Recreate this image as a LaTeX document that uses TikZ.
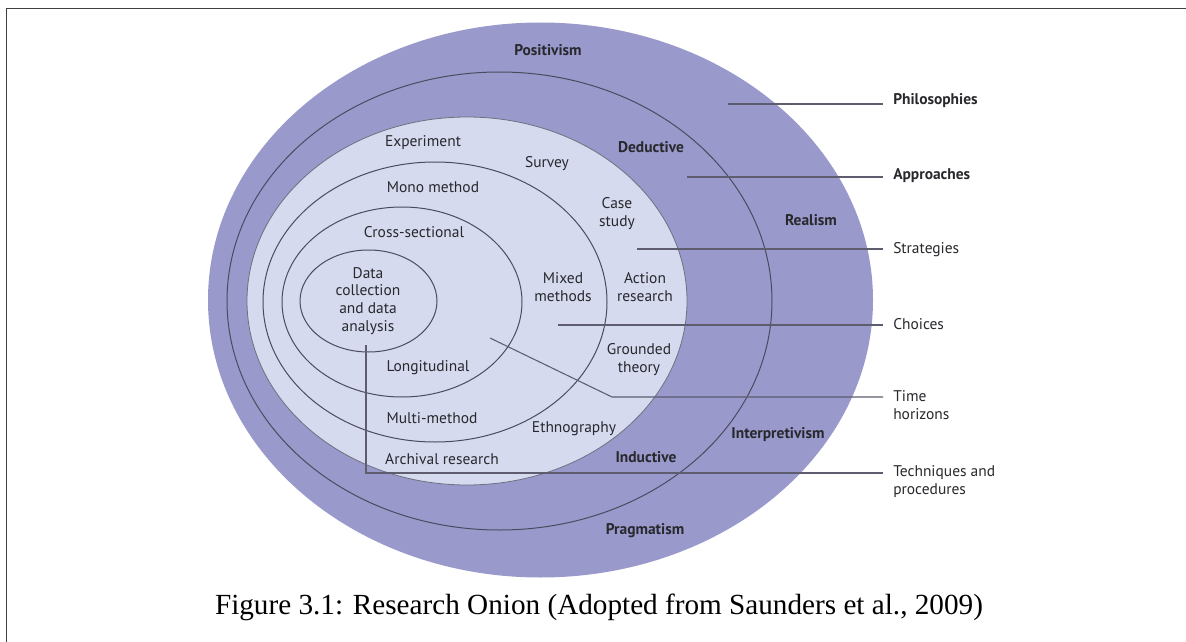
\documentclass[tikz,border=0pt]{standalone}
\usepackage{fontspec}
\newfontfamily\onionfont{PT Sans}
\newfontfamily\capfont{Liberation Serif}
\definecolor{outerpurple}{RGB}{153,153,204}
\definecolor{innerlight}{RGB}{213,218,238}
\definecolor{ringline}{RGB}{75,75,95}
\definecolor{labtext}{RGB}{40,40,45}
\begin{document}
\begin{tikzpicture}[x=0.75pt,y=-0.75pt,
  lab/.style={font=\onionfont\fontsize{11.6}{13.4}\selectfont, align=center, inner sep=0pt, text=labtext},
  blab/.style={lab, font=\onionfont\bfseries\fontsize{11.6}{13.4}\selectfont},
  rlab/.style={lab, anchor=west, align=left},
  rblab/.style={blab, anchor=west, align=left},
  ring/.style={draw=ringline, line width=0.75pt},
  leader/.style={draw=ringline!90, line width=0.8pt}]
\useasboundingbox (0,0) rectangle (1186,642);
% frame
\draw[line width=1.2pt, black!75] (6.5,642) -- (6.5,8.5) -- (1186,8.5);
% onion
\fill[outerpurple] (540.5,300) ellipse [x radius=332.5, y radius=277.5];
\draw[ring] (499.5,301) ellipse [x radius=272.5, y radius=229];
\filldraw[fill=innerlight, draw=ringline!80, line width=0.6pt] (467,301) ellipse [x radius=220, y radius=184];
\draw[ring] (435,302) ellipse [x radius=172, y radius=140];
\draw[ring] (402,302) ellipse [x radius=120, y radius=95];
\draw[ring] (368.5,301) ellipse [x radius=68.5, y radius=51];
% leader coordinates
\coordinate (philS) at (728,104);   \coordinate (philE) at (883,104);
\coordinate (apprS) at (687,177);   \coordinate (apprE) at (883,177);
\coordinate (stratS) at (637,249);  \coordinate (stratE) at (883,249);
\coordinate (choiS) at (558,325);   \coordinate (choiE) at (883,325);
\coordinate (timeS) at (490,338);   \coordinate (timeK) at (612,397); \coordinate (timeE) at (883,397);
\coordinate (techS) at (366,345);   \coordinate (techK) at (366,473); \coordinate (techE) at (883,473);
\draw[leader] (philS) -- (philE);
\draw[leader] (apprS) -- (apprE);
\draw[leader] (stratS) -- (stratE);
\draw[leader] (choiS) -- (choiE);
\draw[leader] (timeS) -- (timeK) -- (timeE);
\draw[leader] (techS) -- (techK) -- (techE);
% ring labels
\node[blab] (positivism) at (548,50) {Positivism};
\node[blab] (realism) at (811,220) {Realism};
\node[blab] (interp) at (778,435) {Interpretivism};
\node[blab] (pragm) at (645,531) {Pragmatism};
\node[blab] (deductive) at (651,147) {Deductive};
\node[blab] (inductive) at (646,457) {Inductive};
\node[lab] (experiment) at (423,143) {Experiment};
\node[lab] (survey) at (547,164) {Survey};
\node[lab] (casestudy) at (617,214) {Case\\study};
\node[lab] (mixed) at (563,287) {Mixed\\methods};
\node[lab] (action) at (645,287) {Action\\research};
\node[lab] (grounded) at (639,360) {Grounded\\theory};
\node[lab] (ethno) at (574,429) {Ethnography};
\node[lab] (archival) at (442,459) {Archival research};
\node[lab] (mono) at (433,187) {Mono method};
\node[lab] (cross) at (414,232) {Cross-sectional};
\node[lab] (datacoll) at (368,301) {Data\\collection\\and data\\analysis};
\node[lab] (longit) at (428,368) {Longitudinal};
\node[lab] (multi) at (432,418) {Multi-method};
% layer labels
\node[rblab] (phil) at (893,101) {Philosophies};
\node[rblab] (appr) at (893,176) {Approaches};
\node[rlab] (strat) at (893,250) {Strategies};
\node[rlab] (choices) at (893,324) {Choices};
\node[rlab] (time) at (893,405) {Time\\horizons};
\node[rlab] (tech) at (893,482) {Techniques and\\procedures};
% caption
\node[font=\capfont\fontsize{21.9}{26}\selectfont, inner sep=0pt] (caption) at (599,607) {Figure 3.1: Research Onion (Adopted from Saunders et al., 2009)};
\end{tikzpicture}
\end{document}
